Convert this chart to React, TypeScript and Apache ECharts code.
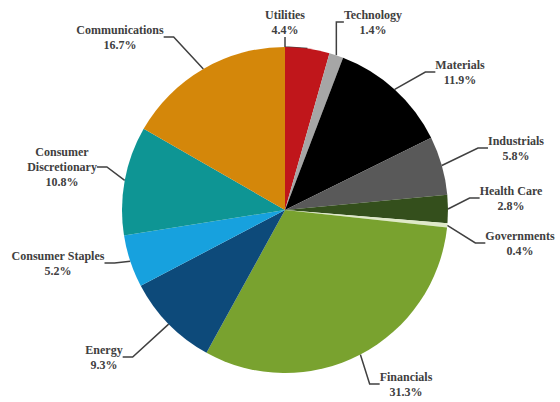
import React, { useEffect, useRef } from "react";
import * as echarts from "echarts";

const sectors = [
  "Utilities",
  "Technology",
  "Materials",
  "Industrials",
  "Health Care",
  "Governments",
  "Financials",
  "Energy",
  "Consumer Staples",
  "Consumer\nDiscretionary",
  "Communications",
];
const weights = [4.4, 1.4, 11.9, 5.8, 2.8, 0.4, 31.3, 9.3, 5.2, 10.8, 16.7];
const colors = [
  "#c0161b",
  "#a6a6a6",
  "#000000",
  "#595959",
  "#344f1c",
  "#dfe9c8",
  "#79a22f",
  "#0d4a7a",
  "#17a1de",
  "#0e9594",
  "#d4870a",
];
// label centre positions (layout only)
const labelPos: [number, number][] = [
  [285, 22],
  [373, 22],
  [460, 72],
  [516, 148],
  [511, 198],
  [520, 243],
  [406, 384],
  [104, 357],
  [58, 263],
  [62, 167],
  [120, 37],
];

export default function App() {
  const ref = useRef<HTMLDivElement>(null);
  useEffect(() => {
    document.body.style.margin = "0";
    const chart = echarts.init(ref.current!, null, { renderer: "svg" });
    chart.setOption({
      animation: false,
      backgroundColor: "#ffffff",
      series: [
        {
          type: "pie",
          center: [285, 210],
          radius: 163,
          startAngle: 90,
          clockwise: true,
          avoidLabelOverlap: false,
          data: sectors.map((name, i) => ({
            name,
            value: weights[i],
            itemStyle: { color: colors[i] },
          })),
          label: {
            show: true,
            position: "outside",
            formatter: (p: any) => `${p.name}\n${p.value.toFixed(1)}%`,
            fontFamily: "Liberation Serif",
            fontWeight: "bold",
            fontSize: 12,
            lineHeight: 15,
            color: "#404040",
            align: "center",
          },
          labelLine: {
            show: true,
            length: 15,
            length2: 10,
            lineStyle: { color: "#404040", width: 1.5 },
          },
          labelLayout: (params: any) => {
            const p = labelPos[params.dataIndex];
            return {
              x: p[0],
              y: p[1],
              align: "center",
              verticalAlign: "middle",
            };
          },
        },
      ],
    });
    return () => chart.dispose();
  }, []);
  return <div ref={ref} style={{ width: 560, height: 402 }} />;
}
